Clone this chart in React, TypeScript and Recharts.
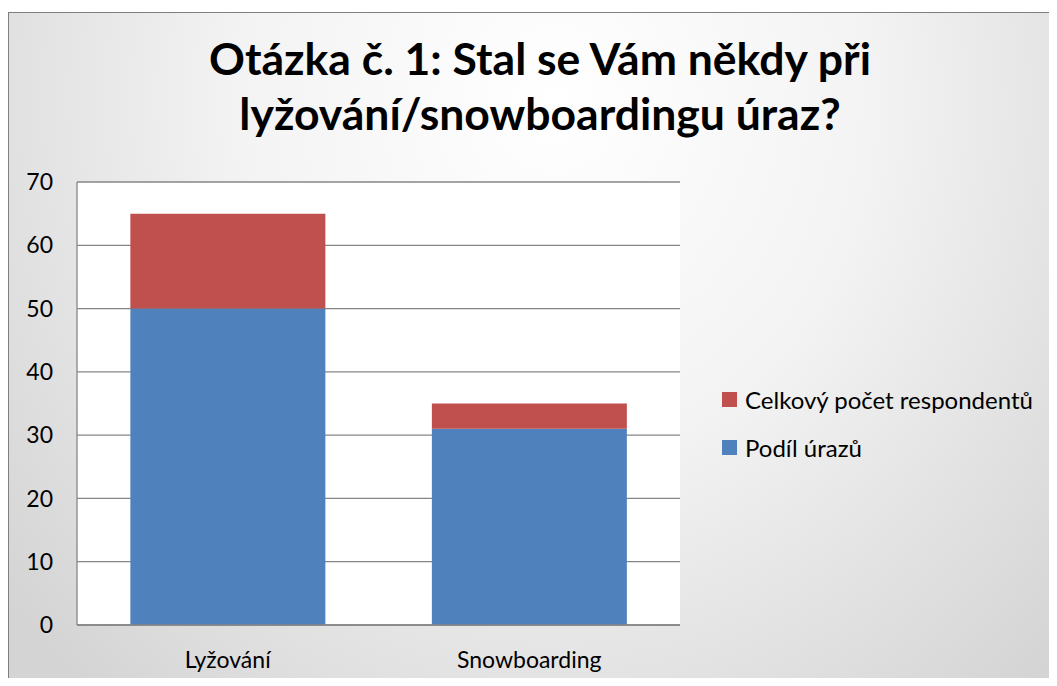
import React from 'react';
import { BarChart, Bar, XAxis, YAxis, CartesianGrid } from 'recharts';

const categories = ['Lyžování', 'Snowboarding'];
const podilUrazu = [50, 31];
const celkovyPocet = [15, 4];
const yTicks = [0, 10, 20, 30, 40, 50, 60, 70];

const seriesNames = { injuries: 'Podíl úrazů', total: 'Celkový počet respondentů' };
const colors = { injuries: '#4f81bd', total: '#c0504d' };

const titleLines = ['Otázka č. 1: Stal se Vám někdy při', 'lyžování/snowboardingu úraz?'];

const data = categories.map((name, i) => ({
  name,
  injuries: podilUrazu[i],
  total: celkovyPocet[i],
}));

const FONT = 'Lato, "Open Sans", sans-serif';

// legend lists the top segment first, like the original
const LegendBox = () => (
  <div style={{ fontFamily: FONT, fontSize: 24, color: '#000' }}>
    {(['total', 'injuries'] as const).map((k) => (
      <div key={k} style={{ display: 'flex', alignItems: 'center', height: 48 }}>
        <span style={{ width: 15, height: 15, background: colors[k], marginRight: 8, display: 'inline-block' }} />
        <span>{seriesNames[k]}</span>
      </div>
    ))}
  </div>
);

export default function App() {
  return (
    <div style={{ width: 1049, height: 670, overflow: 'hidden', position: 'relative' }}>
      <div
        style={{
          position: 'absolute',
          left: 0,
          top: 4,
          width: 1070,
          height: 720,
          border: '1px solid #7f7f7f',
          background: 'radial-gradient(ellipse 66% 110% at 51% 12%, #ffffff 0%, #f3f3f3 45%, #d4d4d4 100%)',
        }}
      />
      <div
        style={{
          position: 'absolute',
          left: 0,
          top: 22,
          width: 1064,
          textAlign: 'center',
          fontFamily: FONT,
          fontWeight: 'bold',
          fontSize: 44.5,
          lineHeight: '55px',
          color: '#000',
        }}
      >
        {titleLines.map((t) => (
          <div key={t}>{t}</div>
        ))}
      </div>
      <div style={{ position: 'absolute', left: 0, top: 0 }}>
        <BarChart
          width={1049}
          height={670}
          data={data}
          margin={{ top: 174, right: 377, left: 0, bottom: 0 }}
          barCategoryGap="17.7%"
        >
          <CartesianGrid vertical={false} stroke="#868686" fill="#ffffff" strokeWidth={1.3} />
          <XAxis
            dataKey="name"
            height={53}
            tickLine={false}
            axisLine={{ stroke: '#868686', strokeWidth: 1.3 }}
            tickMargin={21}
            tick={{ fill: '#000', fontSize: 23, fontFamily: FONT }}
          />
          <YAxis
            width={69}
            domain={[0, 70]}
            ticks={yTicks}
            interval={0}
            tickLine={false}
            axisLine={{ stroke: '#868686', strokeWidth: 1.3 }}
            tickMargin={18}
            tick={{ fill: '#000', fontSize: 23, fontFamily: FONT }}
          />
          <Bar dataKey="injuries" stackId="a" name={seriesNames.injuries} fill={colors.injuries} isAnimationActive={false} />
          <Bar dataKey="total" stackId="a" name={seriesNames.total} fill={colors.total} isAnimationActive={false} />
        </BarChart>
      </div>
      <div style={{ position: 'absolute', left: 714, top: 367 }}>
        <LegendBox />
      </div>
    </div>
  );
}
